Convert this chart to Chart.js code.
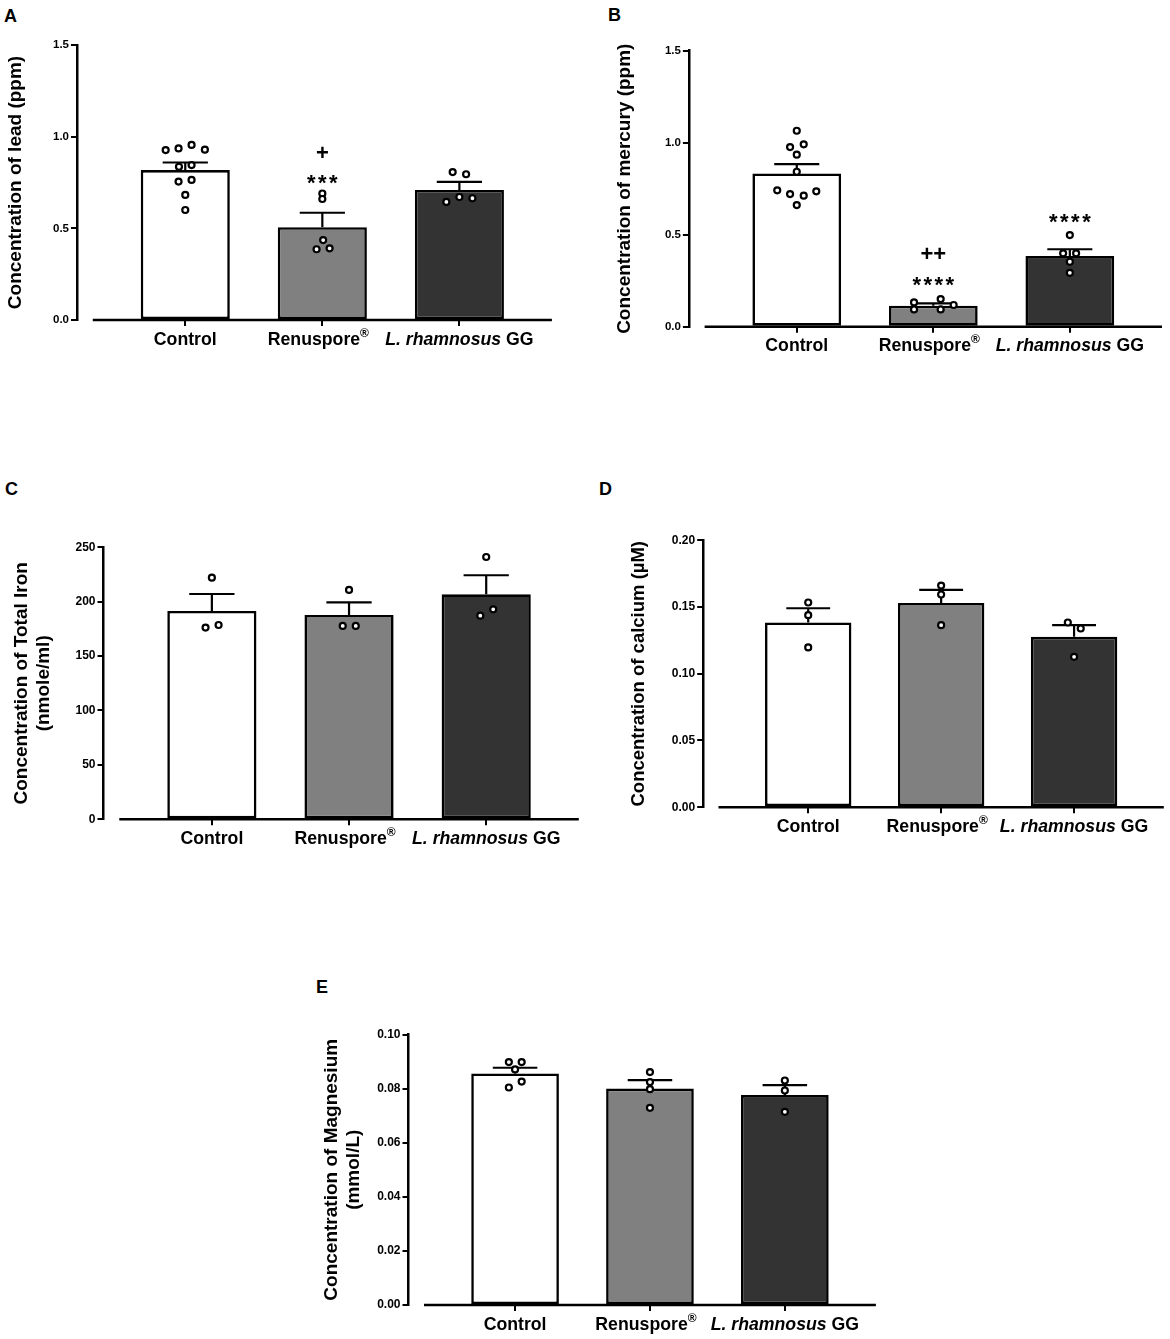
<!DOCTYPE html>
<html>
<head>
<meta charset="utf-8">
<script src="https://cdn.jsdelivr.net/npm/chart.js@4.4.1/dist/chart.umd.min.js"></script>
<style>
  body { margin: 0; background: #fff; }
  #page { position: relative; width: 1170px; height: 1339px; background: #fff; overflow: hidden; }
  #page canvas { position: absolute; }
  .tag { position: absolute; font: bold 18px 'Liberation Sans', Arial, sans-serif; line-height: 1; color: #000; }
</style>
</head>
<body>
<div id="page">
  <div class="tag" style="left:4px;top:7px">A</div>
  <div class="tag" style="left:608px;top:6px">B</div>
  <div class="tag" style="left:5px;top:480px">C</div>
  <div class="tag" style="left:599px;top:480px">D</div>
  <div class="tag" style="left:316px;top:978px">E</div>
</div>
<script>
// groups, same in every panel
const categories = ['Control', 'Renuspore®', 'L. rhamnosus GG'];
const barColors = ['#ffffff', '#808080', '#333333'];

// A - lead (ppm)
const leadMean = [0.818, 0.506, 0.709];
const leadSem = [0.041, 0.079, 0.044];
const leadPoints = [
  [0.927, 0.936, 0.955, 0.929, 0.836, 0.845, 0.755, 0.764, 0.682, 0.600],
  [0.690, 0.660, 0.436, 0.386, 0.391],
  [0.807, 0.795, 0.644, 0.671, 0.664]
];
const leadJitter = [
  [-0.143, -0.049, 0.046, 0.143, -0.046, 0.046, -0.049, 0.046, 0, 0],
  [0, 0, 0.006, -0.042, 0.053],
  [-0.049, 0.049, -0.095, 0, 0.095]
];
const leadTicks = [0, 0.5, 1.0, 1.5];
const leadTickLabels = ['0.0', '0.5', '1.0', '1.5'];
const leadNotes = [{i: 1, text: '+', y: 0.913}, {i: 1, text: '***', y: 0.773}];

// B - mercury (ppm)
const mercuryMean = [0.833, 0.114, 0.384];
const mercurySem = [0.051, 0.013, 0.037];
const mercuryPoints = [
  [1.065, 0.976, 0.991, 0.935, 0.842, 0.741, 0.721, 0.712, 0.736, 0.661],
  [0.132, 0.094, 0.150, 0.094, 0.118],
  [0.498, 0.399, 0.399, 0.353, 0.293]
];
const mercuryJitter = [
  [0, -0.049, 0.051, 0, 0, -0.143, -0.049, 0.051, 0.143, 0],
  [-0.141, -0.141, 0.054, 0.054, 0.149],
  [0, -0.049, 0.046, 0, 0]
];
const mercuryTicks = [0, 0.5, 1.0, 1.5];
const mercuryTickLabels = ['0.0', '0.5', '1.0', '1.5'];
const mercuryNotes = [
  {i: 1, text: '++', y: 0.395}, {i: 1, text: '****', y: 0.254}, {i: 2, text: '****', y: 0.598}
];

// C - total iron (nmole/ml)
const ironMean = [191.5, 187.8, 206.8];
const ironSem = [15.6, 11.6, 17.5];
const ironPoints = [[222.1, 176.2, 178.6], [210.8, 177.7, 177.7], [241.1, 187.2, 193.0]];
const ironJitter = [[0, -0.046, 0.049], [0, -0.046, 0.049], [0, -0.043, 0.051]];
const ironTicks = [0, 50, 100, 150, 200, 250];
const ironTickLabels = ['0', '50', '100', '150', '200', '250'];

// D - calcium (uM)
const calciumMean = [0.1384, 0.1531, 0.1277];
const calciumSem = [0.0107, 0.0097, 0.0087];
const calciumPoints = [[0.1534, 0.1439, 0.1197], [0.1661, 0.1594, 0.1364], [0.1384, 0.1339, 0.1127]];
const calciumJitter = [[0, 0, 0], [0, 0, 0], [-0.047, 0.05, 0]];
const calciumTicks = [0, 0.05, 0.10, 0.15, 0.20];
const calciumTickLabels = ['0.00', '0.05', '0.10', '0.15', '0.20'];

// E - magnesium (mmol/L)
const magnesiumMean = [0.0856, 0.0800, 0.0776];
const magnesiumSem = [0.0021, 0.0031, 0.0037];
const magnesiumPoints = [
  [0.0898, 0.0898, 0.0871, 0.0804, 0.0826],
  [0.0861, 0.0824, 0.0798, 0.0729],
  [0.0830, 0.0793, 0.0714]
];
const magnesiumJitter = [[-0.046, 0.049, 0, -0.046, 0.049], [0, 0, 0, 0], [0, 0, 0]];
const magnesiumTicks = [0, 0.02, 0.04, 0.06, 0.08, 0.10];
const magnesiumTickLabels = ['0.00', '0.02', '0.04', '0.06', '0.08', '0.10'];

const FONT = "'Liberation Sans', Arial, sans-serif";
Chart.defaults.font.family = FONT;
Chart.defaults.color = '#000';

const X_MIN = -0.79, X_MAX = 2.675, LINE_START = -0.675;
const LABEL_SIZE = 17.7;

// split a category name into styled pieces (italic species, superscript ®)
function labelRuns(text) {
  if (text.startsWith('L. rhamnosus')) {
    return [{t: 'L. rhamnosus', style: 'italic bold', size: LABEL_SIZE, dy: 0},
            {t: text.slice(12), style: 'bold', size: LABEL_SIZE, dy: 0}];
  }
  if (text.endsWith('®')) {
    return [{t: text.slice(0, -1), style: 'bold', size: LABEL_SIZE, dy: 0},
            {t: '®', style: 'bold', size: 12, dy: -8, shift: -4}];
  }
  return [{t: text, style: 'bold', size: LABEL_SIZE, dy: 0}];
}

function extras(cfg) {
  return {
    id: 'extras',
    afterDatasetDraw(chart, args) {
      if (args.meta.type !== 'bar') return;
      const ctx = chart.ctx, x = chart.scales.x, y = chart.scales.y;
      ctx.save();
      ctx.strokeStyle = '#000';
      ctx.lineWidth = 2.2;
      cfg.mean.forEach((m, i) => {
        const cx = x.getPixelForValue(i);
        const hw = x.getPixelForValue(i + 0.165) - cx;
        const y0 = y.getPixelForValue(m), y1 = y.getPixelForValue(m + cfg.sem[i]);
        ctx.beginPath();
        ctx.moveTo(cx, y0); ctx.lineTo(cx, y1);
        ctx.moveTo(cx - hw, y1); ctx.lineTo(cx + hw, y1);
        ctx.stroke();
      });
      ctx.restore();
    },
    afterDraw(chart) {
      const ctx = chart.ctx, x = chart.scales.x, y = chart.scales.y, area = chart.chartArea;
      ctx.save();
      // x axis line, detached from the y axis like the original
      ctx.strokeStyle = '#000';
      ctx.lineWidth = 2.5;
      ctx.beginPath();
      ctx.moveTo(x.getPixelForValue(LINE_START), area.bottom);
      ctx.lineTo(area.right, area.bottom);
      ctx.stroke();

      // category labels
      ctx.fillStyle = '#000';
      ctx.textAlign = 'left';
      ctx.textBaseline = 'alphabetic';
      const base = area.bottom + 18.3 + 0.358 * LABEL_SIZE;
      categories.forEach((c, i) => {
        const runs = labelRuns(c);
        let total = 0, shift = 0;
        runs.forEach(r => {
          ctx.font = r.style + ' ' + r.size + 'px ' + FONT;
          r.w = ctx.measureText(r.t).width;
          total += r.w;
          shift += r.shift || 0;
        });
        let xx = x.getPixelForValue(i) - total / 2 + shift;
        runs.forEach(r => {
          ctx.font = r.style + ' ' + r.size + 'px ' + FONT;
          ctx.fillText(r.t, xx, base + r.dy);
          xx += r.w;
        });
      });

      // significance marks
      (cfg.notes || []).forEach(n => {
        const size = 22;
        ctx.font = 'bold ' + size + 'px ' + FONT;
        const star = n.text[0] === '*';
        const gap = star ? 2.5 : 0;
        const adv = ctx.measureText(n.text[0]).width + gap;
        const total = adv * n.text.length - gap;
        let xx = x.getPixelForValue(n.i) - total / 2;
        const yb = y.getPixelForValue(n.y) + (star ? 0.55 : 0.335) * size;
        for (const ch of n.text) { ctx.fillText(ch, xx, yb); xx += adv; }
      });
      ctx.restore();
    }
  };
}

function makePanel(cfg) {
  const [bl, bt, bw, bh] = cfg.box;
  const [L, T, R, B] = cfg.area;
  const HX = 30;
  const canvas = document.createElement('canvas');
  canvas.width = bw; canvas.height = bh;
  canvas.style.left = bl + 'px'; canvas.style.top = bt + 'px';
  document.getElementById('page').appendChild(canvas);

  const dots = [];
  cfg.points.forEach((vals, i) => vals.forEach((v, j) => dots.push({x: i + cfg.jitter[i][j], y: v})));

  new Chart(canvas, {
    type: 'bar',
    data: {
      datasets: [{
        type: 'bar',
        data: cfg.mean.map((v, i) => ({x: i, y: v})),
        backgroundColor: barColors,
        borderColor: '#000',
        borderWidth: 2.6,
        borderSkipped: false,
        barPercentage: 0.65,
        categoryPercentage: 1,
        order: 2
      }, {
        type: 'scatter',
        data: dots,
        pointRadius: 3,
        pointBorderWidth: 2.2,
        pointBackgroundColor: '#fff',
        pointBorderColor: '#000',
        order: 1
      }]
    },
    options: {
      responsive: false,
      animation: false,
      layout: { padding: { left: 0, top: T - bt, right: bl + bw - R, bottom: bt + bh - B - HX } },
      plugins: { legend: { display: false }, tooltip: { enabled: false } },
      scales: {
        x: {
          type: 'linear', min: X_MIN, max: X_MAX, offset: false,
          afterBuildTicks: s => { s.ticks = [0, 1, 2].map(v => ({value: v})); },
          ticks: { display: false },
          grid: { offset: false, drawOnChartArea: false, drawTicks: true, tickLength: 6, color: '#000', lineWidth: 2 },
          border: { display: false },
          afterFit: s => { s.height = HX; }
        },
        y: {
          min: 0, max: cfg.ticks[cfg.ticks.length - 1],
          afterBuildTicks: s => { s.ticks = cfg.ticks.map(v => ({value: v})); },
          ticks: {
            callback: (v, i) => cfg.tickLabels[i],
            font: { size: cfg.tickSize, weight: 'bold' },
            color: '#000',
            padding: 2
          },
          grid: { drawOnChartArea: false, drawTicks: true, tickLength: 6, color: '#000', lineWidth: 2 },
          border: { display: true, color: '#000', width: 2.5 },
          title: {
            display: true, text: cfg.title, color: '#000',
            font: { size: cfg.titleSize, weight: 'bold', lineHeight: 1.18 },
            padding: { top: cfg.titlePad, bottom: 0 }
          },
          afterFit: s => { s.width = L - bl; }
        }
      }
    },
    plugins: [extras(cfg)]
  });
}

makePanel({
  box: [0, 0, 585, 370], area: [77, 45, 551.9, 320],
  title: 'Concentration of lead (ppm)', titleSize: 19, titlePad: 4.6, tickSize: 11.5,
  mean: leadMean, sem: leadSem, points: leadPoints, jitter: leadJitter,
  ticks: leadTicks, tickLabels: leadTickLabels, notes: leadNotes
});
makePanel({
  box: [590, 0, 580, 375], area: [688.9, 50.7, 1162, 326.7],
  title: 'Concentration of mercury (ppm)', titleSize: 19, titlePad: 23.8, tickSize: 11.5,
  mean: mercuryMean, sem: mercurySem, points: mercuryPoints, jitter: mercuryJitter,
  ticks: mercuryTicks, tickLabels: mercuryTickLabels, notes: mercuryNotes
});
makePanel({
  box: [0, 470, 585, 390], area: [103.5, 547.3, 579.6, 819.3],
  title: ['Concentration of Total Iron', '(nmole/ml)'], titleSize: 19, titlePad: 10.1, tickSize: 12,
  mean: ironMean, sem: ironSem, points: ironPoints, jitter: ironJitter,
  ticks: ironTicks, tickLabels: ironTickLabels
});
makePanel({
  box: [590, 470, 580, 380], area: [703.2, 540.3, 1165, 807.2],
  title: 'Concentration of calcium (µM)', titleSize: 18.5, titlePad: 37.9, tickSize: 12,
  mean: calciumMean, sem: calciumSem, points: calciumPoints, jitter: calciumJitter,
  ticks: calciumTicks, tickLabels: calciumTickLabels
});
makePanel({
  box: [300, 970, 600, 369], area: [408.5, 1034.5, 875.9, 1305],
  title: ['Concentration of Magnesium', '(mmol/L)'], titleSize: 19, titlePad: 20.3, tickSize: 12,
  mean: magnesiumMean, sem: magnesiumSem, points: magnesiumPoints, jitter: magnesiumJitter,
  ticks: magnesiumTicks, tickLabels: magnesiumTickLabels
});
</script>
</body>
</html>
